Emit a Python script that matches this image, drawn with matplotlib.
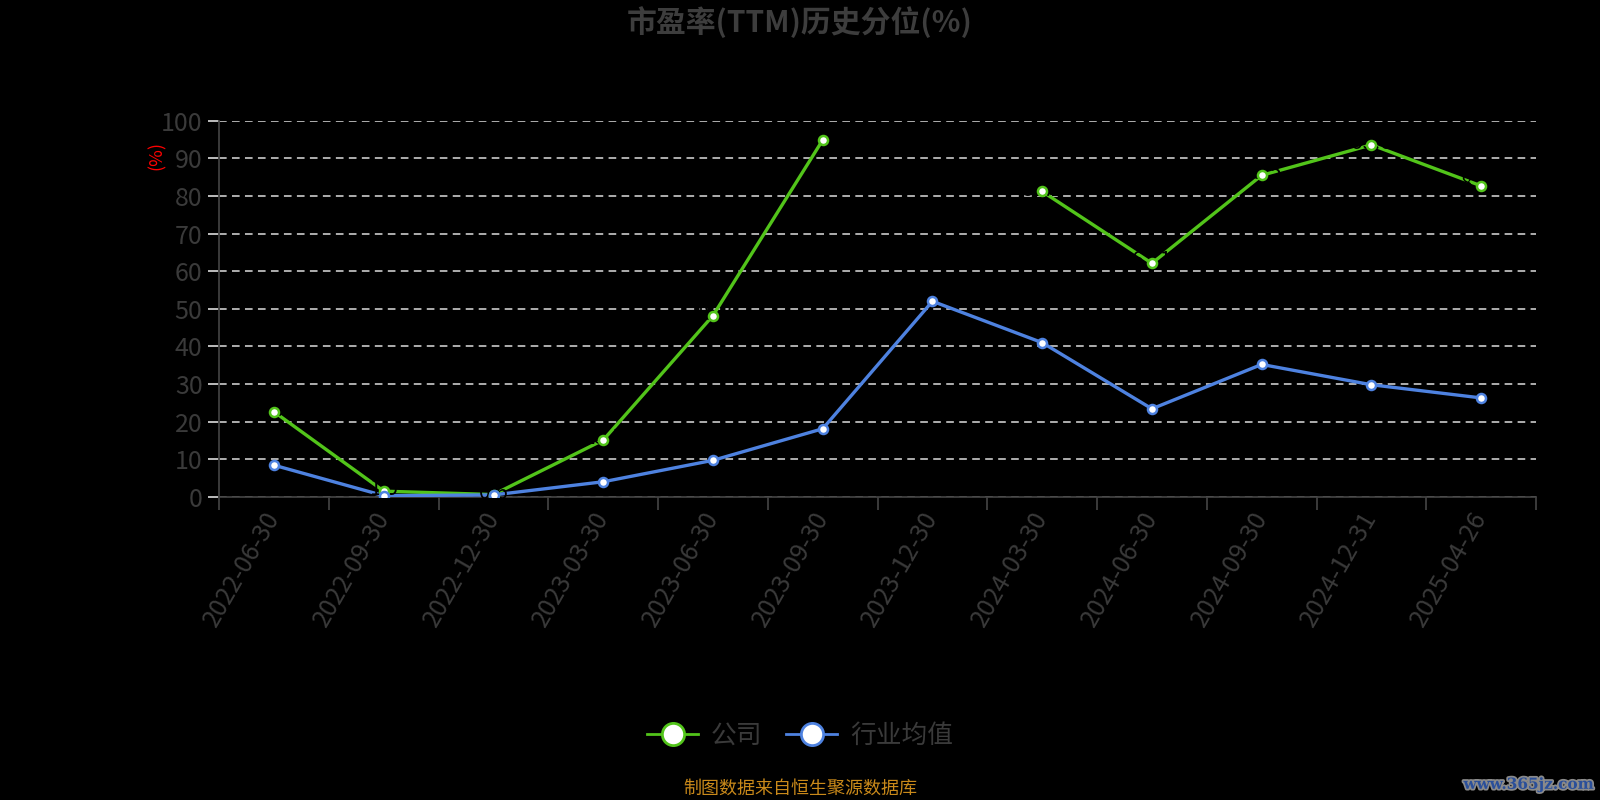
import numpy as np
import matplotlib
matplotlib.use("Agg")
import matplotlib.pyplot as plt
import matplotlib.patheffects as pe
from matplotlib.lines import Line2D

plt.rcParams['font.family'] = ['Noto Sans CJK SC', 'DejaVu Sans']

# data
dates = ["2022-06-30", "2022-09-30", "2022-12-30", "2023-03-30", "2023-06-30", "2023-09-30",
         "2023-12-30", "2024-03-30", "2024-06-30", "2024-09-30", "2024-12-31", "2025-04-26"]
company = [22.6, 1.5, 0.6, 15.1, 48.2, 94.9, None, 81.2, 62.1, 85.5, 93.6, 82.7]
industry = [8.4, 0.3, 0.5, 4.0, 9.7, 18.1, 52.0, 41.0, 23.4, 35.2, 29.8, 26.3]

green = "#52c41a"
blue = "#4e82e0"
grey = "#3a3a3a"

fig = plt.figure(figsize=(16, 8), dpi=100, facecolor="black")
ax = fig.add_axes([0.137, 0.379, 0.823, 0.470])
ax.set_facecolor("black")

x = np.arange(len(dates))
comp = np.array([np.nan if v is None else v for v in company], dtype=float)
ind = np.array(industry, dtype=float)

# lines first, then the black value labels, then markers on top
ax.plot(x, comp, color=green, lw=2.4, zorder=3)
ax.plot(x, ind, color=blue, lw=2.4, zorder=3)
for xi, v in zip(x, comp):
    if not np.isnan(v):
        ax.text(xi, v + 0.5, "{0:g}".format(v), color="black", fontsize=15,
                ha="center", va="center", zorder=3.5)
ax.plot(x, comp, ls="none", marker="o", ms=6.5, mfc="white", mec=green, mew=1.8, zorder=4)
ax.plot(x, ind, ls="none", marker="o", ms=6.5, mfc="white", mec=blue, mew=1.8, zorder=4)

ax.set_xlim(-0.5, len(dates) - 0.5)
ax.set_ylim(0, 100)
ax.set_yticks(np.arange(0, 101, 10))
ax.yaxis.grid(True, color="#dddddd", lw=1.1, dashes=(5, 3.5), zorder=1)
ax.set_axisbelow(True)

for s in ["top", "right", "left", "bottom"]:
    ax.spines[s].set_visible(False)
ax.spines["left"].set_visible(True)
ax.spines["bottom"].set_visible(True)
ax.spines["left"].set_color("#404040")
ax.spines["bottom"].set_color("#404040")
ax.spines["left"].set_linewidth(1.3)
ax.spines["bottom"].set_linewidth(1.3)

ax.tick_params(axis="y", colors="#dddddd", labelcolor=grey, labelsize=18, length=8, width=1.2, pad=4)
ax.set_xticks(x)
ax.set_xticklabels(dates, rotation=60, ha="right", va="center", rotation_mode="anchor")
ax.tick_params(axis="x", which="major", length=0, labelcolor=grey, labelsize=18, pad=12)
ax.set_xticks(np.arange(-0.5, len(dates), 1), minor=True)
ax.tick_params(axis="x", which="minor", length=9, width=1.3, color="#404040")

fig.text(157 / 1600, 1 - 155 / 800, "(%)", color="red", rotation=90, fontsize=13,
         ha="center", va="center")

fig.text(0.5, 0.972, "市盈率(TTM)历史分位(%)", color="#3d3d3d", fontsize=21.5,
         fontweight="bold", ha="center", va="center")

handles = [Line2D([], [], color=green, lw=2, marker="o", ms=16, mfc="white", mec=green, mew=2),
           Line2D([], [], color=blue, lw=2, marker="o", ms=16, mfc="white", mec=blue, mew=2)]
leg = fig.legend(handles, ["公司", "行业均值"], loc="center", bbox_to_anchor=(0.5, 0.08), ncol=2,
                 frameon=False, fontsize=18.5, handlelength=2.0, handletextpad=0.5, columnspacing=0.9)
for t in leg.get_texts():
    t.set_color(grey)

fig.text(0.5, 0.014, "制图数据来自恒生聚源数据库", color="#c9891a", fontsize=13,
         ha="center", va="center")

wm = fig.text(0.996, 0.019, "www.365jz.com", color="#2a4f9a", fontsize=11, fontweight="bold",
              family="DejaVu Serif", ha="right", va="center")
wm.set_path_effects([pe.withStroke(linewidth=2.5, foreground="#8a8a8a")])

fig.savefig("out.png", facecolor="black")
